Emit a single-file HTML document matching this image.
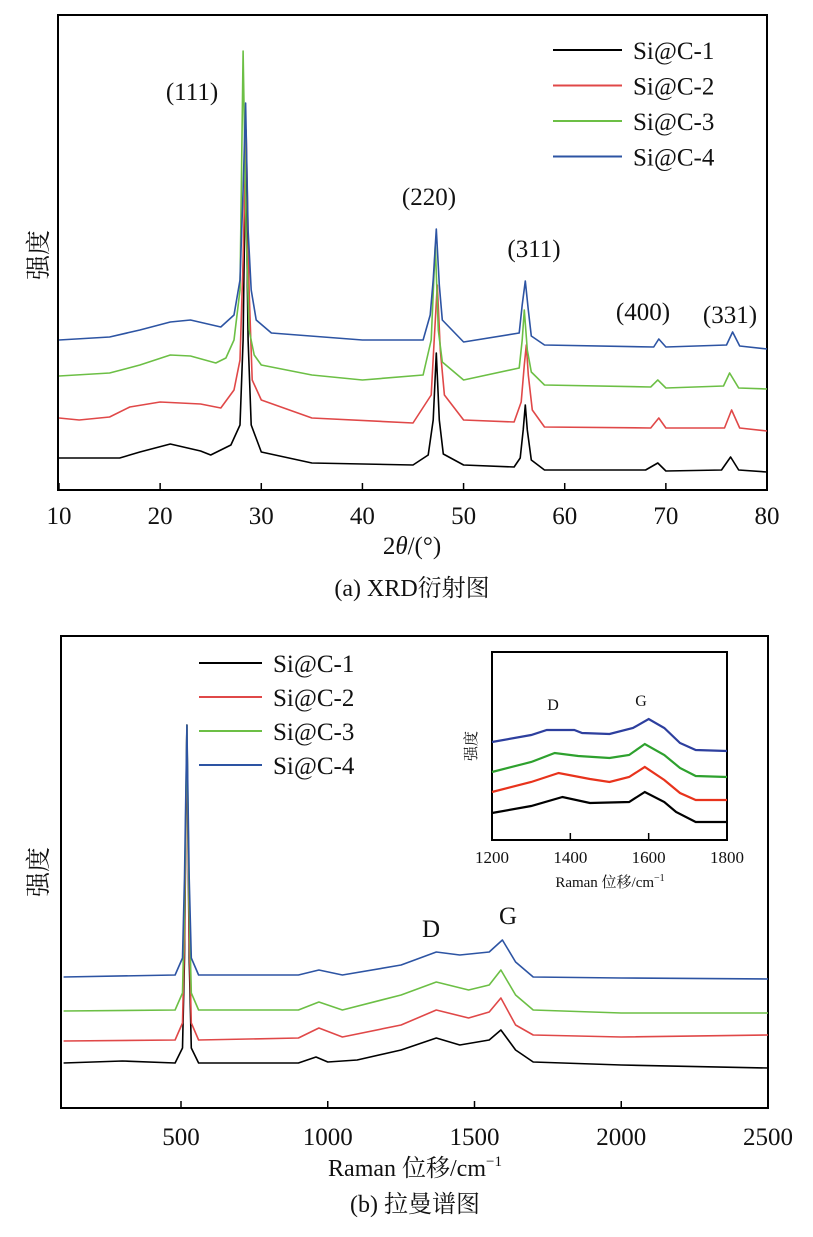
<!DOCTYPE html>
<html><head><meta charset="utf-8">
<style>
html,body{margin:0;padding:0;background:#fff;}
svg{display:block;font-family:"Liberation Serif","Noto Serif CJK SC","Noto Sans CJK SC",serif;}
</style></head>
<body>
<svg id="fig" width="813" height="1237" viewBox="0 0 813 1237"></svg>
<script>
// ---------- XRD data (2θ, intensity a.u.) ----------
const xrdTicks = [10,20,30,40,50,60,70,80];
const xrdNames = ["Si@C-1","Si@C-2","Si@C-3","Si@C-4"];
const xrdColors = ["#000000","#e04848","#6cbf45","#2d54a3"];
const xrdS1 = [[10,32],[16,32],[18,38],[21,46],[24,39],[25,35],[27,45],[27.9,65],[28.2,150],[28.45,340],[28.7,150],[29.0,65],[30,38],[35,27],[45,25],[46.5,35],[47.0,70],[47.3,137],[47.6,70],[48,36],[50,25],[55,23],[55.6,32],[55.9,60],[56.1,85],[56.3,60],[56.7,30],[58,20],[68,20],[69.2,27],[70,19],[75.5,20],[76.4,33],[77.2,20],[80,18]];
const xrdS2 = [[10,72],[12,70],[15,73],[17,83],[20,88],[24,86],[26,82],[27.3,100],[27.9,130],[28.2,230],[28.5,360],[28.8,200],[29.1,110],[30,90],[35,72],[45,67],[46.8,95],[47.1,150],[47.4,205],[47.7,140],[48.1,95],[50,70],[55,68],[55.7,88],[56.0,125],[56.2,145],[56.4,115],[56.8,80],[58,63],[68.5,62],[69.3,72],[70,62],[75.8,62],[76.5,80],[77.3,62],[80,59]];
const xrdS3 = [[10,114],[15,117],[18,125],[21,135],[23,134],[25.5,127],[26.5,132],[27.3,150],[27.9,200],[28.2,439],[28.5,260],[28.8,160],[29.3,135],[30,125],[35,115],[40,110],[46,115],[46.8,150],[47.2,245],[47.5,160],[47.9,128],[50,110],[55.5,122],[55.8,150],[56.0,180],[56.3,140],[56.7,118],[58,105],[68.5,103],[69.2,110],[70,102],[75.7,104],[76.3,117],[77.2,102],[80,101]];
const xrdS4 = [[10,150],[15,153],[18,160],[21,168],[23,170],[26,163],[27.3,175],[27.9,210],[28.2,300],[28.45,387],[28.7,260],[29.0,200],[29.5,170],[31,157],[40,150],[46,150],[46.7,175],[47.0,210],[47.3,261],[47.6,205],[47.9,170],[50,148],[55.5,157],[55.8,185],[56.1,209],[56.4,180],[56.7,154],[58,145],[68.8,143],[69.3,151],[70,143],[76,145],[76.6,158],[77.3,144],[80,141]];
const xrdSeries = [xrdS1,xrdS2,xrdS3,xrdS4];
const xrdPeaks = [["(111)",192,100],["(220)",429,205],["(311)",534,257],["(400)",643,320],["(331)",730,323]];

// ---------- Raman data ----------
const ramTicks = [500,1000,1500,2000,2500];
const ramR1 = [[100,45],[300,47],[480,45],[505,60],[512,150],[520,383],[528,150],[535,60],[560,45],[900,45],[960,51],[1000,46],[1100,48],[1250,58],[1370,70],[1450,63],[1550,68],[1590,78],[1640,58],[1700,46],[2000,43],[2500,40]];
const ramR2 = [[100,67],[480,68],[505,85],[512,170],[520,383],[528,170],[535,85],[560,68],[900,70],[970,80],[1050,71],[1250,83],[1370,98],[1480,90],[1550,96],[1590,110],[1640,83],[1700,73],[2000,71],[2500,73]];
const ramR3 = [[100,97],[480,98],[505,115],[512,200],[520,383],[528,200],[535,115],[560,98],[900,98],[970,106],[1050,98],[1250,113],[1370,126],[1480,118],[1550,123],[1590,138],[1640,113],[1700,98],[2000,95],[2500,95]];
const ramR4 = [[100,131],[480,133],[505,150],[512,230],[520,383],[528,230],[535,150],[560,133],[900,133],[970,138],[1050,133],[1250,143],[1370,156],[1450,153],[1550,156],[1595,168],[1640,146],[1700,131],[2000,130],[2500,129]];
const ramSeries = [ramR1,ramR2,ramR3,ramR4];

// ---------- Inset data ----------
const insTicks = [1200,1400,1600,1800];
const insI1 = [[1200,27],[1300,34],[1380,43],[1450,37],[1550,38],[1590,48],[1640,38],[1670,28],[1720,18],[1800,18]];
const insI2 = [[1200,48],[1300,58],[1370,67],[1450,61],[1500,58],[1550,63],[1590,73],[1640,60],[1680,47],[1720,40],[1800,40]];
const insI3 = [[1200,68],[1300,78],[1360,87],[1420,84],[1500,82],[1550,85],[1590,96],[1640,85],[1680,72],[1720,64],[1800,63]];
const insI4 = [[1200,98],[1300,105],[1340,110],[1410,110],[1430,107],[1500,106],[1560,112],[1600,121],[1640,112],[1680,97],[1720,90],[1800,89]];
const insSeries = [insI1,insI2,insI3,insI4];

const NS="http://www.w3.org/2000/svg";
const svg=document.getElementById('fig');
function mk(tag,attrs,parent){const e=document.createElementNS(NS,tag);for(const k in attrs)e.setAttribute(k,attrs[k]);(parent||svg).appendChild(e);return e;}
function txt(s,x,y,size,anchor,parent){const t=mk('text',{x:x,y:y,'font-size':size,'text-anchor':anchor||'middle',fill:'#111'},parent);t.textContent=s;return t;}

// ===== XRD panel =====
const X1={l:58,r:767,t:15,b:490,x0:10,x1:80};
const xX=v=>X1.l+1+(v-X1.x0)/(X1.x1-X1.x0)*(X1.r-X1.l-1);
const xY=v=>X1.b-v;
let g=mk('g',{});


let r=mk('rect',{x:X1.l,y:X1.t,width:X1.r-X1.l,height:X1.b-X1.t,fill:'none',stroke:'#000','stroke-width':2},g);


xrdTicks.forEach(v=>{
  const l=mk('line',{x1:xX(v),x2:xX(v),y1:X1.b,y2:X1.b-7,stroke:'#000','stroke-width':1.5},g);
  
  
  const t=txt(String(v),xX(v),524,25,'middle',g);
  
  
});
xrdSeries.forEach((s,i)=>{
  const p=mk('polyline',{points:s.map(d=>xX(d[0]).toFixed(1)+','+xY(d[1]).toFixed(1)).join(' '),fill:'none',stroke:xrdColors[i],'stroke-width':1.6,'stroke-linejoin':'round'},g);
  
  
});
xrdPeaks.forEach(p=>{
  const t=txt(p[0],p[1],p[2],25,'middle',g);
  
  
});
xrdNames.forEach((n,i)=>{
  const y=50+i*35.5;
  const l=mk('line',{x1:553,x2:622,y1:y,y2:y,stroke:xrdColors[i],'stroke-width':2},g);
  
  
  const t=txt(n,633,y+9,25,'start',g);
  
  
});
let t=txt('强度',0,0,25,'middle',g);t.setAttribute('transform','translate(47,255) rotate(-90)');


t=mk('text',{x:412,y:554,'font-size':25,'text-anchor':'middle',fill:'#111'},g);
t.innerHTML='2<tspan font-style="italic">θ</tspan>/(°)';


t=txt('(a) XRD衍射图',412,596,24,'middle',g);



// ===== Raman panel =====
const R={l:61,r:768,t:636,b:1108,x0:500,px0:181,k:0.2935};
const rX=v=>R.px0+(v-R.x0)*R.k;
const rY=v=>R.b-v;
g=mk('g',{});


r=mk('rect',{x:R.l,y:R.t,width:R.r-R.l,height:R.b-R.t,fill:'none',stroke:'#000','stroke-width':2},g);


ramTicks.forEach(v=>{
  const l=mk('line',{x1:rX(v),x2:rX(v),y1:R.b,y2:R.b-7,stroke:'#000','stroke-width':1.5},g);
  
  
  const tt=txt(String(v),rX(v),1145,25,'middle',g);
  
  
});
ramSeries.forEach((s,i)=>{
  const p=mk('polyline',{points:s.map(d=>rX(d[0]).toFixed(1)+','+rY(d[1]).toFixed(1)).join(' '),fill:'none',stroke:xrdColors[i],'stroke-width':1.6,'stroke-linejoin':'round'},g);
  
  
});
t=txt('D',431,937,25,'middle',g);


t=txt('G',508,924,25,'middle',g);


xrdNames.forEach((n,i)=>{
  const y=663+i*34;
  const l=mk('line',{x1:199,x2:262,y1:y,y2:y,stroke:xrdColors[i],'stroke-width':2},g);
  
  
  const tt=txt(n,273,y+9,25,'start',g);
  
  
});
t=txt('强度',0,0,25,'middle',g);t.setAttribute('transform','translate(47,872) rotate(-90)');


t=mk('text',{x:415,y:1176,'font-size':24,'text-anchor':'middle',fill:'#111'},g);
t.innerHTML='Raman 位移/cm<tspan font-size="15" dy="-10">−1</tspan>';


t=txt('(b) 拉曼谱图',415,1212,24,'middle',g);



// ===== Inset =====
const insColors = ["#000000","#e8331c","#2ea12e","#2d3f9e"];
const I={l:492,r:727,t:652,b:840,x0:1200,x1:1800};
const iX=v=>I.l+(v-I.x0)/(I.x1-I.x0)*(I.r-I.l);
const iY=v=>I.b-v;
g=mk('g',{});


r=mk('rect',{x:I.l,y:I.t,width:I.r-I.l,height:I.b-I.t,fill:'#fff',stroke:'#000','stroke-width':2},g);


insTicks.forEach(v=>{
  const l=mk('line',{x1:iX(v),x2:iX(v),y1:I.b,y2:I.b-7,stroke:'#000','stroke-width':1.5},g);
  
  
  const tt=txt(String(v),iX(v),863,17,'middle',g);
  
  
});
insSeries.forEach((s,i)=>{
  const p=mk('polyline',{points:s.map(d=>iX(d[0]).toFixed(1)+','+iY(d[1]).toFixed(1)).join(' '),fill:'none',stroke:insColors[i],'stroke-width':2.2},g);
  
  
});
t=txt('D',553,710,16,'middle',g);


t=txt('G',641,706,16,'middle',g);


t=txt('强度',0,0,15,'middle',g);t.setAttribute('transform','translate(476,746) rotate(-90)');


t=mk('text',{x:610,y:887,'font-size':15,'text-anchor':'middle',fill:'#111'},g);
t.innerHTML='Raman 位移/cm<tspan font-size="10" dy="-6">−1</tspan>';


</script>
</body></html>
